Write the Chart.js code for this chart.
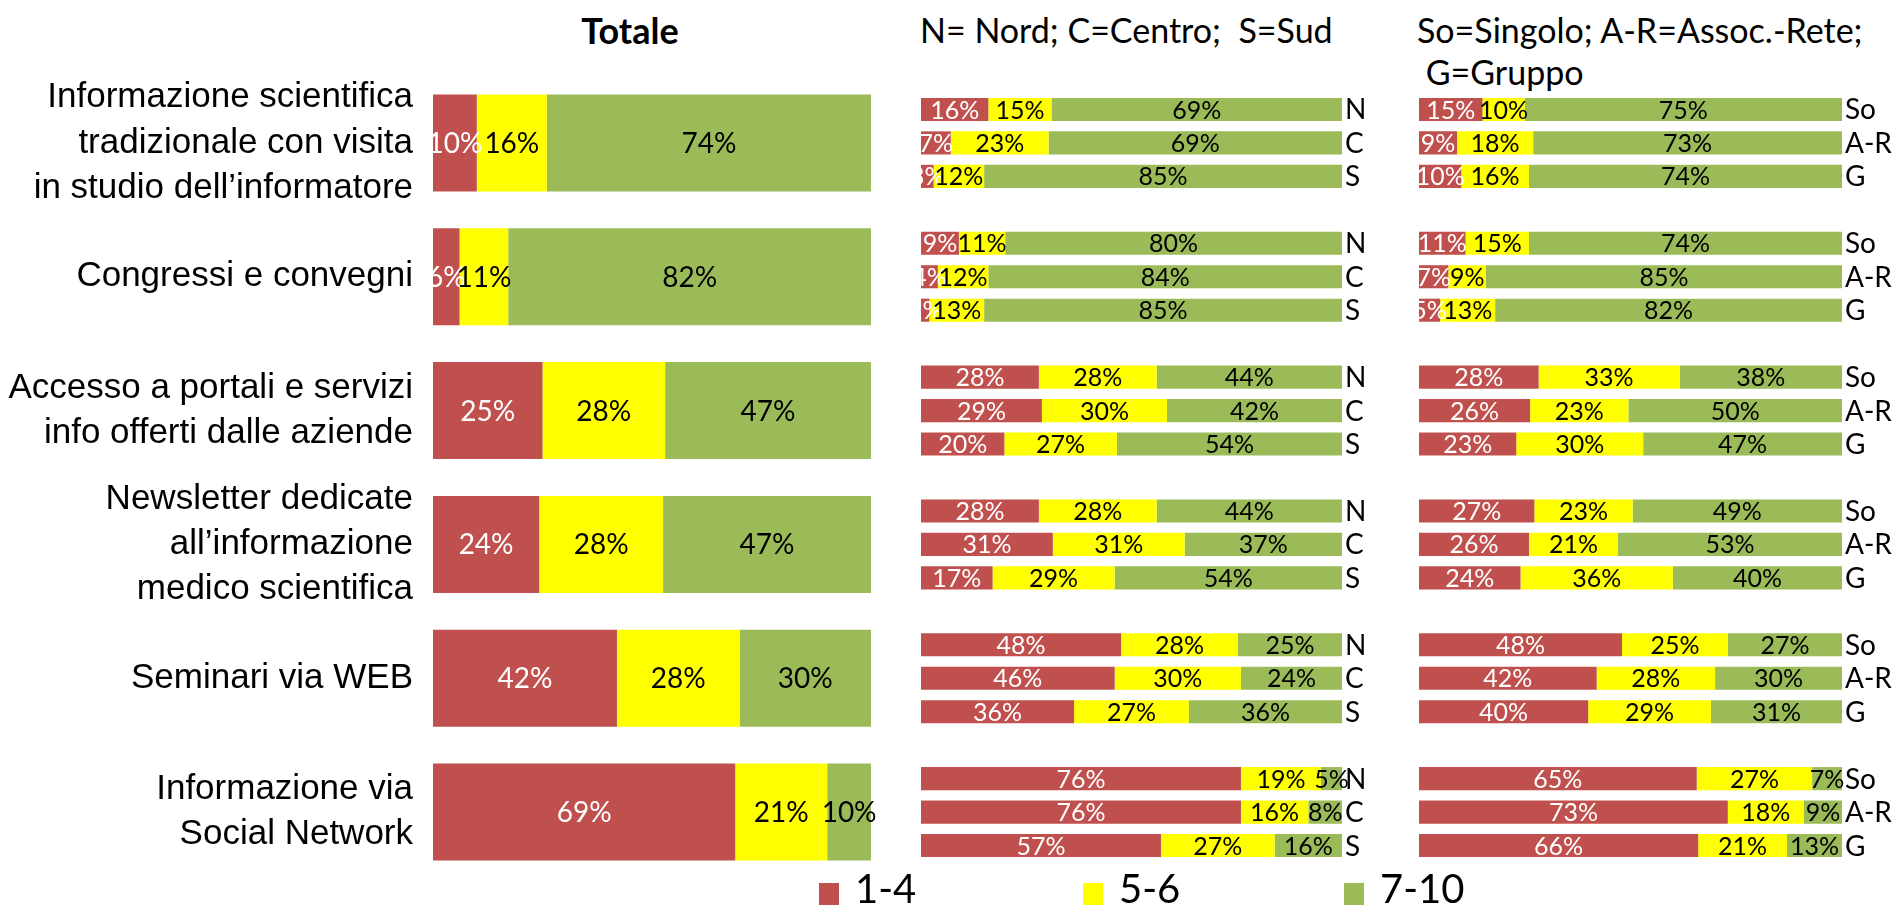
<!DOCTYPE html>
<html>
<head>
<meta charset="utf-8">
<script src="https://cdn.jsdelivr.net/npm/chart.js@4.4.0/dist/chart.umd.min.js"></script>
<style>
  body { margin: 0; width: 1894px; height: 907px; overflow: hidden; background: #fff; position: relative; font-family: Lato, sans-serif; }
  canvas { position: absolute; top: 0; }
  .head { position: absolute; top: 9px; line-height: 42px; font-size: 34px; color: #000; white-space: nowrap; }
  .key { position: absolute; top: 867px; font-size: 40px; line-height: 42px; color: #000; white-space: nowrap; }
  .key i { display: inline-block; width: 20px; height: 22px; margin-right: 16px; vertical-align: -2px; }
</style>
</head>
<body>
<div class="head" style="left:630px; transform:translateX(-50%); font-weight:bold; font-size:36px;">Totale</div>
<div class="head" style="left:920px;">N= Nord; C=Centro;&nbsp; S=Sud</div>
<div class="head" style="left:1417px;">So=Singolo; A-R=Assoc.-Rete;<br>&nbsp;G=Gruppo</div>

<canvas id="totChart" width="880" height="907" style="left:0"></canvas>
<canvas id="areaChart" width="500" height="907" style="left:900px"></canvas>
<canvas id="typeChart" width="494" height="907" style="left:1400px"></canvas>
<div id="legend"></div>

<script>
// categories (y axis)
const categories = [
    ['Informazione scientifica', 'tradizionale con visita', 'in studio dell\u2019informatore'],
    'Congressi e convegni',
    ['Accesso a portali e servizi', 'info offerti dalle aziende'],
    ['Newsletter dedicate', 'all\u2019informazione', 'medico scientifica'],
    'Seminari via WEB',
    ['Informazione via', 'Social Network']
];
const scoreBands = ['1-4', '5-6', '7-10'];
const bandColors = ['#C0504D', '#FFFF00', '#9BBB59'];

// Totale
const totLow  = [10, 6, 25, 24, 42, 69];
const totMid  = [16, 11, 28, 28, 28, 21];
const totHigh = [74, 82, 47, 47, 30, 10];

// Nord / Centro / Sud
const areaNames = ['N', 'C', 'S'];
const nordLow    = [16, 9, 28, 28, 48, 76];
const nordMid    = [15, 11, 28, 28, 28, 19];
const nordHigh   = [69, 80, 44, 44, 25, 5];
const centroLow  = [7, 4, 29, 31, 46, 76];
const centroMid  = [23, 12, 30, 31, 30, 16];
const centroHigh = [69, 84, 42, 37, 24, 8];
const sudLow     = [3, 2, 20, 17, 36, 57];
const sudMid     = [12, 13, 27, 29, 27, 27];
const sudHigh    = [85, 85, 54, 54, 36, 16];

// Singolo / Assoc.-Rete / Gruppo
const typeNames = ['So', 'A-R', 'G'];
const singoloLow  = [15, 11, 28, 27, 48, 65];
const singoloMid  = [10, 15, 33, 23, 25, 27];
const singoloHigh = [75, 74, 38, 49, 27, 7];
const reteLow     = [9, 7, 26, 26, 42, 73];
const reteMid     = [18, 9, 23, 21, 28, 18];
const reteHigh    = [73, 85, 50, 53, 30, 9];
const gruppoLow   = [10, 5, 23, 24, 40, 66];
const gruppoMid   = [16, 13, 30, 36, 29, 21];
const gruppoHigh  = [74, 82, 47, 40, 31, 13];

// one stack per group, bars scaled so each row fills the width
function bandSets(groups, stackNames, barPct, catPct) {
    let sets = [];
    groups.forEach((bands, g) => {
        bands.forEach((vals, b) => {
            sets.push({
                label: scoreBands[b],
                stack: stackNames ? stackNames[g] : 'tot',
                data: vals.map((v, i) => v / bands.reduce((s, arr) => s + arr[i], 0) * 100),
                pct: vals,
                band: b,
                backgroundColor: bandColors[b],
                borderWidth: 0,
                barPercentage: barPct,
                categoryPercentage: catPct
            });
        });
    });
    return sets;
}

const segmentLabels = {
    id: 'segmentLabels',
    afterDatasetsDraw(chart, args, o) {
        const { ctx, chartArea } = chart;
        ctx.save();
        ctx.beginPath();
        ctx.rect(chartArea.left, 0, chart.width - chartArea.left, chart.height);
        ctx.clip();
        ctx.textBaseline = 'middle';
        chart.data.datasets.forEach((ds, d) => {
            const meta = chart.getDatasetMeta(d);
            meta.data.forEach((bar, i) => {
                ctx.font = o.size + 'px Lato';
                ctx.textAlign = 'center';
                ctx.fillStyle = ds.band == 0 ? '#fff' : '#000';
                ctx.fillText(ds.pct[i] + '%', (bar.x + bar.base) / 2, bar.y + 1);
                if (o.names && ds.band == scoreBands.length - 1) {
                    ctx.font = o.nameSize + 'px Lato';
                    ctx.textAlign = 'left';
                    ctx.fillStyle = '#000';
                    ctx.fillText(ds.stack, bar.x + 3, bar.y + 1);
                }
            });
        });
        ctx.restore();
    }
};

function barOptions(padding, labelOpts, yAxis) {
    return {
        indexAxis: 'y',
        responsive: false,
        animation: false,
        layout: { padding: padding },
        plugins: {
            legend: { display: false },
            tooltip: { enabled: false },
            segmentLabels: labelOpts
        },
        scales: {
            x: { stacked: true, min: 0, max: 100, display: false },
            y: yAxis
        }
    };
}

new Chart(document.getElementById('totChart'), {
    type: 'bar',
    data: {
        labels: categories,
        datasets: bandSets([[totLow, totMid, totHigh]], null, 1, 0.725)
    },
    options: barOptions({ left: 0, right: 9, top: 76, bottom: 28 }, { size: 28 }, {
        stacked: true,
        grid: { display: false, drawTicks: false },
        border: { display: false },
        ticks: {
            autoSkip: false,
            padding: 20,
            color: '#000',
            font: { family: 'Liberation Sans', size: 35, lineHeight: 1.29 }
        },
        afterFit(scale) {
            scale.width = 433;
            scale.paddingTop = 0;
            scale.paddingBottom = 0;
        }
    }),
    plugins: [segmentLabels]
});

new Chart(document.getElementById('areaChart'), {
    type: 'bar',
    data: {
        labels: categories,
        datasets: bandSets([
            [nordLow, nordMid, nordHigh],
            [centroLow, centroMid, centroHigh],
            [sudLow, sudMid, sudHigh]
        ], areaNames, 0.69, 0.75)
    },
    options: barOptions({ left: 21, right: 58, top: 76, bottom: 28 },
        { size: 25, names: true, nameSize: 28 },
        { stacked: true, display: false }),
    plugins: [segmentLabels]
});

new Chart(document.getElementById('typeChart'), {
    type: 'bar',
    data: {
        labels: categories,
        datasets: bandSets([
            [singoloLow, singoloMid, singoloHigh],
            [reteLow, reteMid, reteHigh],
            [gruppoLow, gruppoMid, gruppoHigh]
        ], typeNames, 0.69, 0.75)
    },
    options: barOptions({ left: 19, right: 52, top: 76, bottom: 28 },
        { size: 25, names: true, nameSize: 28 },
        { stacked: true, display: false }),
    plugins: [segmentLabels]
});

// legend
const legendEl = document.getElementById('legend');
const keyLeft = [819, 1083, 1344];
scoreBands.forEach((b, i) => {
    const item = document.createElement('div');
    item.className = 'key';
    item.style.left = keyLeft[i] + 'px';
    item.innerHTML = '<i style="background:' + bandColors[i] + '"></i>' + b;
    legendEl.appendChild(item);
});
</script>
</body>
</html>
